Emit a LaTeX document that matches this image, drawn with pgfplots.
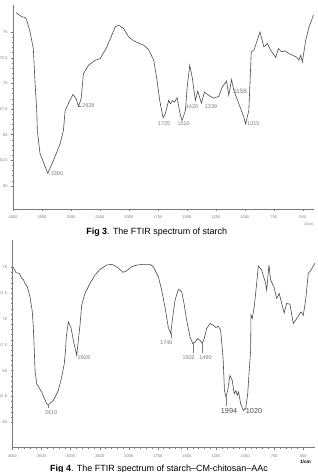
\documentclass[border=0pt]{standalone}
\usepackage{fontspec}
\setmainfont{Liberation Sans}
\usepackage{pgfplots}
\usepackage{pgfplotstable}
\pgfplotsset{compat=1.18}
\definecolor{spec}{HTML}{4A4A4A}
\definecolor{lab}{HTML}{7A7A7A}
\pgfplotsset{
  ftir/.style={
    scale only axis,
    axis lines=left,
    axis line style={lab, line width=0.5pt, -},
    xmin=0, xmax=10.4,
    xtick={0,1,2,3,4,5,6,7,8,9,10},
    xticklabels={4000,3500,3000,2500,2000,1750,1500,1250,1000,750,500},
    ytick={60,62.5,65,67.5,70,72.5,75},
    yticklabels={60,62.5,65,67.5,70,72.5,75},
    minor x tick num=4, minor y tick num=4,
    tick align=outside,
    major tick length=2bp, minor tick length=1.2bp,
    every tick/.style={lab, line width=0.4pt},
    /pgf/number format/assume math mode=true,
    ticklabel style={font=\fontsize{4}{4}\selectfont, text=lab},
    xticklabel style={yshift=-1bp},
    clip=false,
  },
}
\pgfplotstableread{
w v
3948 76.9
3849 76.5
3792 76.44
3763 76.18
3706 75.03
3649 73.40
3619 70.0
3590 67.36
3580 65.4
3533 63.14
3400 61.25
3303 62.46
3187 64.12
3130 65.4
3100 67.36
3043 68.04
2967 68.92
2910 68.5
2870 67.75
2824 68.5
2784 70.95
2697 71.77
2581 72.26
2495 72.42
2379 73.56
2235 75.52
2178 75.69
2092 75.36
2005 74.54
1959 74.15
1873 73.73
1830 73.30
1786 72.26
1757 70.30
1734 68.34
1705 66.64
1685 67.06
1657 68.34
1642 68.01
1622 68.34
1607 68.17
1584 68.6
1555 66.87
1541 66.38
1512 67.36
1497 69.64
1475 71.77
1454 70.62
1426 68.34
1406 69.25
1374 68.07
1348 69.15
1311 68.83
1267 68.56
1224 68.73
1195 69.64
1157 70.23
1138 68.83
1114 70.36
1094 69.31
1051 68.01
1008 66.70
993 66.05
965 67.36
944 73.07
921 73.24
892 74.22
869 75.03
835 73.56
805 73.89
777 73.24
733 72.52
710 73.40
682 73.07
653 73.17
618 72.91
589 72.75
554 72.58
532 72.26
517 72.75
503 72.09
474 74.22
445 75.52
407 76.67
}\starch
\pgfplotstableread{
w v
3986 75.02
3940 74.49
3883 74.44
3842 73.95
3814 73.85
3785 73.46
3745 73.13
3699 72.16
3659 70.70
3642 69.24
3625 66.97
3613 65.03
3584 63.74
3498 62.92
3412 61.79
3384 61.69
3298 62.11
3212 63.08
3154 64.38
3109 65.68
3088 66.97
3075 68.27
3040 69.73
2994 69.18
2954 67.95
2896 66.49
2839 69.41
2810 71.35
2753 72.49
2667 73.46
2581 74.27
2495 74.82
2380 75.24
2294 75.31
2208 75.08
2094 74.53
2036 74.69
1975 75.08
1932 75.24
1875 75.31
1818 75.31
1789 75.08
1746 74.11
1717 72.81
1689 71.19
1660 69.18
1639 68.60
1622 70.21
1602 71.84
1574 72.88
1545 72.65
1525 71.52
1502 69.89
1473 68.27
1450 67.63
1430 67.78
1407 68.11
1387 67.95
1368 67.63
1351 68.11
1330 69.09
1302 69.57
1273 69.41
1250 69.18
1230 69.31
1210 68.92
1192 66.65
1188 66.0
1177 63.08
1164 62.43
1149 63.08
1130 64.54
1110 64.06
1093 62.76
1078 63.08
1067 62.60
1055 62.92
1038 61.79
1015 61.14
995 61.30
977 62.76
964 65.03
952 66.97
949 70.38
938 70.06
921 71.19
900 73.46
886 75.15
857 74.76
823 73.46
814 72.81
794 75.24
780 73.78
751 73.13
728 72.00
706 72.49
685 71.52
663 70.60
642 71.52
614 71.45
585 69.57
556 70.06
519 70.70
499 70.38
479 71.84
456 74.44
436 74.69
399 75.41
}\composite
\begin{document}
\begin{tikzpicture}[x=1bp,y=1bp]
\begin{axis}[ftir, at={(13bp,263bp)}, anchor=south west,
  width=301.3bp, height=204bp, ymin=57.75, ymax=77.65]
\addplot[spec, line width=0.6pt, mark=none] table[x expr={(4000-\thisrow{w})/500 + max(0,2000-\thisrow{w})/500}, y=v] {\starch};
\end{axis}
\begin{axis}[ftir, at={(12.5bp,24.3bp)}, anchor=south west,
  width=302.3bp, height=207.7bp, ymin=57.53, ymax=77.67]
\addplot[spec, line width=0.6pt, mark=none] table[x expr={(4000-\thisrow{w})/500 + max(0,2000-\thisrow{w})/500}, y=v] {\composite};
\end{axis}
% annotations, top
\begin{scope}[every node/.style={font=\fontsize{5.5}{5.5}\selectfont, text=lab, inner sep=0pt}]
\node at (57,472-174) {3390};
\node at (88.3,472-106) {2928};
\node at (164,472-124) {1725};
\node at (183.7,472-124) {1510};
\node at (192,472-106.7) {1420};
\node at (211,472-106.7) {1339};
\node[font=\fontsize{6.3}{6.3}\selectfont] at (240,472-91) {1158};
\node at (253.3,472-124) {1015};
\node[font=\fontsize{4}{4}\selectfont] at (308.5,472-224) {1/cm};
% bottom
\node at (84,472-357.5) {2928};
\node at (51,472-412.3) {3410};
\node at (166.3,472-342.3) {1740};
\node at (188.7,472-357.7) {1502};
\node at (205.5,472-357.7) {1490};
\node[font=\fontsize{7.3}{7.3}\selectfont, text=spec] at (229,472-411) {1994};
\node[font=\fontsize{7.3}{7.3}\selectfont, text=spec] at (254,472-411) {1020};
\node[font=\fontsize{4.8}{4.8}\selectfont\bfseries, text=black] at (305.5,472-461.5) {1/cm};
\end{scope}
\draw[lab, line width=0.3pt] (170.7,472-333.3) -- (170.7,472-338.5);
\draw[lab, line width=0.3pt] (192.7,472-343.3) -- (192.7,472-353.5);
\draw[lab, line width=0.3pt] (202.3,472-343.3) -- (202.3,472-353.5);
\draw[lab, line width=0.3pt] (48.3,472-404.3) -- (48.3,472-408.5);
\draw[lab, line width=0.3pt] (226,472-396.7) -- (226,472-406);
\draw[lab, line width=0.3pt] (243.3,472-410) -- (245,472-408);
\draw[lab, line width=0.3pt] (47.7,472-172.3) -- (50,472-174);
\draw[lab, line width=0.3pt] (78.3,472-106) -- (80.5,472-106);
% captions
\node[font=\fontsize{9}{10}\selectfont, inner sep=0pt] at (156.7,472-232.7) {\textbf{Fig 3}. The FTIR spectrum of starch};
\node[font=\fontsize{9}{10}\selectfont, inner sep=0pt] at (159,472-469) {\textbf{Fig 4}. The FTIR spectrum of starch--CM-chitosan--AAc};
\pgfresetboundingbox
\path (0,0) rectangle (317,472);
\end{tikzpicture}
\end{document}
